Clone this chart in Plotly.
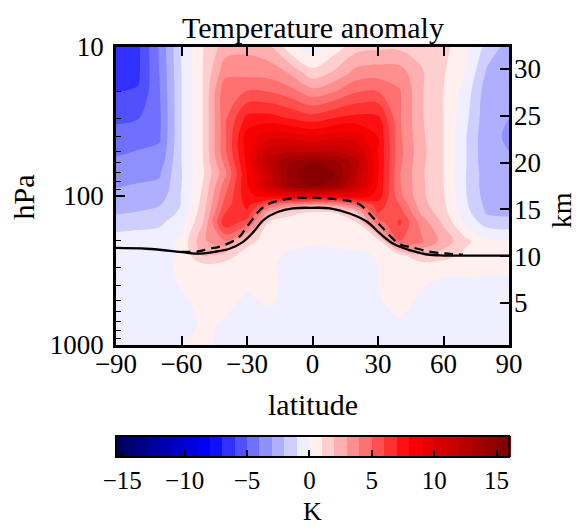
import plotly.graph_objects as go

# ---------------- data ----------------
lat = [-90, -80, -70, -60, -50, -40, -30, -20, -10, 0, 10, 20, 30, 40, 50, 60, 70, 80, 90]
pressure = [10, 15, 20, 30, 40, 50, 60, 70, 85, 100, 115, 130, 150, 200, 250, 300, 400, 500, 700, 850, 1000]

T_p10 = [-6.6, -6.2, -3.85, -0.9, 1.0, 2.5, 2.7, 2.3, 0.3, -0.6, 0.5, 1.6, 1.8, 1.8, 1.7, 1.3, 0.3, -1.4, -2.4]
T_p15 = [-6.4, -6.2, -3.95, -1.0, 1.05, 3.7, 3.7, 3.6, 2.9, 1.4, 2.2, 3.4, 3.6, 3.5, 2.1, 1.1, 0.0, -2.2, -2.7]
T_p20 = [-6.0, -5.9, -4.05, -1.0, 1.05, 4.75, 5.05, 5.0, 4.4, 3.4, 4.0, 4.95, 5.0, 4.1, 2.1, 1.0, -0.4, -2.6, -2.9]
T_p30 = [-5.2, -5.05, -4.15, -1.0, 1.05, 4.8, 7.3, 7.4, 6.9, 6.45, 7.0, 7.3, 7.3, 4.1, 2.1, 1.0, -0.7, -2.7, -3.0]
T_p40 = [-4.6, -4.43, -4.1, -1.0, 1.05, 4.8, 8.5, 9.55, 9.6, 9.05, 9.6, 9.5, 8.0, 4.2, 2.2, 1.0, -0.9, -2.8, -3.1]
T_p50 = [-4.2, -3.96, -3.85, -1.0, 1.05, 4.8, 8.5, 11.5, 11.8, 11.7, 11.9, 11.0, 8.0, 4.3, 2.3, 1.0, -0.9, -2.8, -3.0]
T_p60 = [-3.76, -3.6, -3.5, -1.0, 1.0, 4.3, 8.3, 12.3, 14.3, 15.1, 14.5, 12.5, 8.1, 4.2, 2.2, 1.0, -0.9, -2.75, -2.95]
T_p70 = [-3.46, -3.3, -3.1, -1.05, 0.9, 3.75, 8.05, 11.3, 14.6, 15.6, 15.1, 12.1, 8.07, 4.05, 2.15, 1.0, -0.95, -2.6, -2.9]
T_p85 = [-3.09, -2.93, -2.85, -1.0, 1.1, 4.5, 7.9, 11.0, 14.2, 15.3, 14.6, 11.5, 7.9, 4.1, 2.2, 1.0, -0.95, -2.6, -2.8]
T_p100 = [-2.72, -2.6, -2.5, -0.95, 1.3, 5.0, 7.7, 8.5, 9.0, 9.0, 8.5, 8.8, 7.6, 4.3, 2.2, 1.1, -0.9, -2.5, -2.6]
T_p115 = [-2.4, -2.28, -2.05, -0.95, 1.5, 5.5, 7.3, 5.0, 3.5, 3.0, 3.2, 4.5, 6.5, 5.0, 2.4, 1.2, -0.8, -2.3, -2.4]
T_p130 = [-2.09, -1.93, -1.6, -0.8, 1.7, 6.0, 6.8, 2.5, 1.2, 0.8, 1.0, 1.8, 6.0, 5.5, 2.8, 1.4, -0.6, -2.1, -2.2]
T_p150 = [-1.47, -1.33, -1.2, -0.4, 2.0, 6.8, 5.5, 1.0, 0.6, 0.5, 0.6, 1.0, 4.5, 6.2, 3.5, 1.8, -0.2, -1.5, -1.7]
T_p200 = [-0.6, -0.55, -0.45, 0.2, 2.8, 4.0, 1.4, 0.5, 0.3, 0.1, 0.2, 0.3, 0.7, 5.0, 4.2, 2.6, 1.3, 0.2, 0.1]
T_p250 = [-0.45, -0.4, -0.35, 0.15, 2.2, 1.5, 0.5, 0.2, -0.15, -0.2, -0.2, -0.15, 0.05, 0.8, 1.8, 1.5, 0.7, 0.35, 0.3]
T_p300 = [-0.4, -0.4, -0.3, 0.2, 0.5, 0.5, 0.4, 0.1, -0.2, -0.25, -0.25, -0.2, 0.0, 0.4, 0.4, 0.3, 0.3, 0.25, 0.2]
T_p400 = [-0.4, -0.4, -0.3, 0.05, 0.3, 0.3, 0.1, 0.15, -0.2, -0.3, -0.3, -0.2, 0.0, 0.3, 0.05, -0.2, -0.25, -0.25, -0.25]
T_p500 = [-0.4, -0.4, -0.35, -0.1, 0.2, 0.2, -0.1, 0.1, -0.2, -0.3, -0.3, -0.25, -0.05, 0.2, -0.1, -0.2, -0.25, -0.25, -0.25]
T_p700 = [-0.35, -0.35, -0.3, -0.25, 0.1, -0.05, -0.2, -0.2, -0.25, -0.3, -0.3, -0.3, -0.2, -0.05, -0.2, -0.25, -0.25, -0.25, -0.25]
T_p850 = [-0.3, -0.3, -0.3, -0.1, 0.1, -0.1, -0.25, -0.25, -0.25, -0.3, -0.3, -0.3, -0.25, -0.15, -0.25, -0.25, -0.25, -0.25, -0.25]
T_p1000 = [-0.3, -0.3, -0.3, 0.02, 0.1, -0.15, -0.25, -0.25, -0.25, -0.3, -0.3, -0.3, -0.25, -0.2, -0.25, -0.25, -0.25, -0.25, -0.25]

temperature = [T_p10, T_p15, T_p20, T_p30, T_p40, T_p50, T_p60, T_p70, T_p85, T_p100,
               T_p115, T_p130, T_p150, T_p200, T_p250, T_p300, T_p400, T_p500,
               T_p700, T_p850, T_p1000]

# tropopause lines
trop_solid_lat = [-90, -76, -61, -53, -45, -38, -32, -27, -22.5, -16, -9, 0, 8, 17, 25, 31, 37, 45, 52.5, 60, 75, 90]
trop_solid_p = [223, 226, 237, 244, 237, 226, 204, 174, 145, 128, 121, 120, 121, 131, 149, 179, 209, 232, 247, 251, 251, 251]
trop_dash_lat = [-60, -53, -47, -41, -34, -30, -24, -19.5, -12, -6, 0, 2, 8, 17, 22, 28, 32.5, 40, 45, 54, 62, 69]
trop_dash_p = [237, 236, 226, 215, 191, 161, 124, 112, 105, 103, 103, 103, 104, 108, 115, 141, 166, 211, 220, 237, 244, 248]

lat_ticks = [-90, -60, -30, 0, 30, 60, 90]
p_ticks = [10, 100, 1000]
p_minor = [20, 30, 40, 50, 60, 70, 80, 90, 200, 300, 400, 500, 600, 700, 800, 900]
km_ticks = [5, 10, 15, 20, 25, 30]
km_range = [0.5, 32.35]
cb_ticks = [-15, -10, -5, 0, 5, 10, 15]
level_start, level_end, level_step = -16, 16, 1


# ---------------- colours: matplotlib "seismic" ----------------
def seismic(t):
    stops = [(0.0, (0.0, 0.0, 0.3)), (0.25, (0.0, 0.0, 1.0)), (0.5, (1.0, 1.0, 1.0)),
             (0.75, (1.0, 0.0, 0.0)), (1.0, (0.5, 0.0, 0.0))]
    for (t0, c0), (t1, c1) in zip(stops[:-1], stops[1:]):
        if t <= t1:
            f = (t - t0) / (t1 - t0)
            c = [c0[i] + f * (c1[i] - c0[i]) for i in range(3)]
            return "rgb(%d,%d,%d)" % tuple(round(255 * v) for v in c)
    return "rgb(128,0,0)"


nb = int((level_end - level_start) / level_step)          # 32 bands
band_cols = [seismic((j + 0.5) / nb) for j in range(nb)]
m = nb - 1
cscale = []
for j in range(m):
    cscale.append([j / m, band_cols[j]])
    cscale.append([(j + 1) / m, band_cols[j]])
cscale.append([1.0, band_cols[-1]])

FONT = "Liberation Serif"
FS = 27
FS_T = 30

fig = go.Figure()
fig.add_trace(go.Contour(
    x=lat, y=pressure, z=temperature,
    autocontour=False,
    contours=dict(start=level_start, end=level_end, size=level_step,
                  coloring="fill", showlines=False),
    line=dict(width=0, smoothing=1.0),
    colorscale=cscale, zmin=level_start + 0.5 * level_step, zmax=level_end,
    hoverinfo="skip",
    colorbar=dict(orientation="h", x=0.5, xanchor="center", y=-0.306, yanchor="top",
                  len=1.0, lenmode="fraction", thickness=21, thicknessmode="pixels",
                  xpad=0, ypad=0, outlinewidth=2, outlinecolor="black",
                  tickmode="array", tickvals=cb_ticks, ticks="inside", ticklen=8,
                  tickwidth=1.5, tickcolor="black",
                  tickfont=dict(family=FONT, size=25, color="black")),
))
fig.add_trace(go.Scatter(x=trop_solid_lat, y=trop_solid_p, mode="lines",
                         line=dict(color="black", width=2.3, shape="spline"),
                         hoverinfo="skip", showlegend=False))
fig.add_trace(go.Scatter(x=trop_dash_lat, y=trop_dash_p, mode="lines",
                         line=dict(color="black", width=2.3, dash="9px,6px", shape="spline"),
                         hoverinfo="skip", showlegend=False))
# carrier for the km axis
fig.add_trace(go.Scatter(x=[lat[0], lat[-1]], y=km_range, yaxis="y2", mode="markers",
                         marker=dict(opacity=0), hoverinfo="skip", showlegend=False))

axis_common = dict(showgrid=False, zeroline=False, ticks="inside", ticklen=9, tickwidth=1.5,
                   tickcolor="black", tickfont=dict(family=FONT, size=FS, color="black"))

fig.update_layout(
    width=583, height=529,
    margin=dict(l=116, r=74, t=47, b=184),
    paper_bgcolor="white", plot_bgcolor="white",
    showlegend=False,
    font=dict(family=FONT, size=FS, color="black"),
    xaxis=dict(range=[-90, 90], tickmode="array", tickvals=lat_ticks,
               showline=True, linewidth=2.5, linecolor="black", mirror="ticks",
               ticklabelstandoff=-7, **axis_common),
    yaxis=dict(type="log", range=[3, 1], tickmode="array", tickvals=p_ticks,
               ticktext=[str(v) for v in p_ticks],
               showline=True, linewidth=2.5, linecolor="black", mirror=True,
               ticklabelstandoff=4,
               minor=dict(tickmode="array", tickvals=p_minor, ticks="inside",
                          ticklen=5, tickwidth=1.2, tickcolor="black"),
               **axis_common),
    yaxis2=dict(overlaying="y", side="right", range=km_range, tickmode="array",
                tickvals=km_ticks, showline=False, ticklabelstandoff=4, **axis_common),
    annotations=[
        dict(text="Temperature anomaly", x=0.5, y=1.064, xref="paper", yref="paper",
             xanchor="center", yanchor="middle", showarrow=False,
             font=dict(family=FONT, size=FS_T, color="black")),
        dict(text="latitude", x=0.5, y=-0.201, xref="paper", yref="paper",
             xanchor="center", yanchor="middle", showarrow=False,
             font=dict(family=FONT, size=FS_T, color="black")),
        dict(text="hPa", x=-0.235, y=0.497, xref="paper", yref="paper", textangle=-90,
             xanchor="center", yanchor="middle", showarrow=False,
             font=dict(family=FONT, size=FS_T, color="black")),
        dict(text="km", x=1.133, y=0.453, xref="paper", yref="paper", textangle=-90,
             xanchor="center", yanchor="middle", showarrow=False,
             font=dict(family=FONT, size=28, color="black")),
        dict(text="K", x=0.5, y=-0.6141, xref="paper", yref="paper",
             xanchor="center", yanchor="bottom", showarrow=False,
             font=dict(family=FONT, size=26, color="black")),
    ],
)

fig.write_html("out.html")
